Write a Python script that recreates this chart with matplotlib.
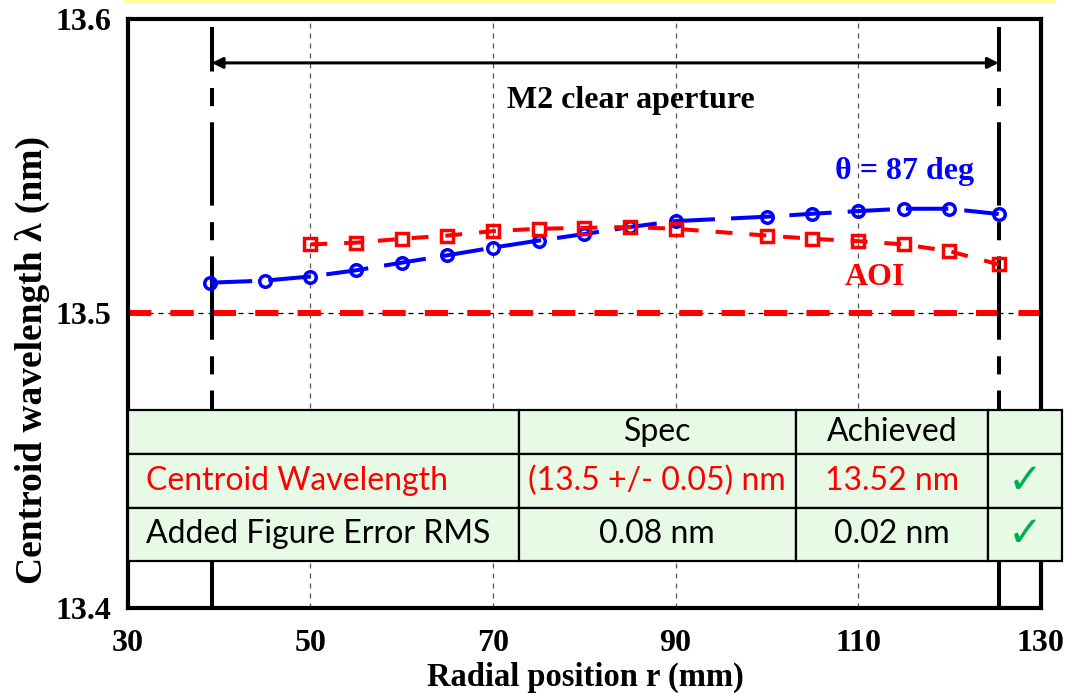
import numpy as np
import matplotlib
matplotlib.use("Agg")
from matplotlib import pyplot as plt
from matplotlib.patches import Rectangle

# data
r_blue = [39, 45, 50, 55, 60, 65, 70, 75, 80, 85, 90, 100, 105, 110, 115, 120, 125.4]
lam_blue = [13.5104, 13.5111, 13.5125, 13.5146, 13.5172, 13.5197, 13.5223, 13.5247, 13.5269,
            13.5293, 13.5313, 13.5328, 13.5338, 13.5347, 13.5355, 13.5355, 13.5337]
r_red = [50, 55, 60, 65, 70, 75, 80, 85, 90, 100, 105, 110, 115, 120, 125.4]
lam_red = [13.5234, 13.5240, 13.5253, 13.5264, 13.5279, 13.5287, 13.5290, 13.5293, 13.5287,
           13.5264, 13.5253, 13.5245, 13.5234, 13.5211, 13.5166]
clear_aperture = [39.2, 125.4]
aoi_level = 13.5
x_ticks = [30, 50, 70, 90, 110, 130]
y_ticks = [13.4, 13.5, 13.6]

table_cols = ["", "Spec", "Achieved", ""]
table_rows = [["Centroid Wavelength", "(13.5 +/- 0.05) nm", "13.52 nm", "\u2713"],
              ["Added Figure Error RMS", "0.08 nm", "0.02 nm", "\u2713"]]
row_colors = ["black", "#FF0000", "black"]

SERIF = "Liberation Serif"


def main():
    fig = plt.figure(figsize=(10.78, 6.93), dpi=100)
    ax = fig.add_axes([0.1185, 0.1227, 0.8469, 0.8503])

    # thin yellow band at the very top
    fig.add_artist(Rectangle((124 / 1078, 1 - 3.5 / 693), 931 / 1078, 3.5 / 693,
                             transform=fig.transFigure, color="#FFFF99", lw=0))

    ax.set_xlim(30, 130)
    ax.set_ylim(13.4, 13.6)
    ax.set_xticks(x_ticks)
    ax.set_yticks(y_ticks)
    ax.set_yticklabels(["%.1f" % v for v in y_ticks])
    ax.tick_params(length=0, labelsize=23, pad=12)
    ax.tick_params(axis="x", pad=15)
    for lab in ax.get_xticklabels() + ax.get_yticklabels():
        lab.set_fontfamily(SERIF)
        lab.set_fontweight("bold")
    for s in ax.spines.values():
        s.set_linewidth(3)

    # grid
    for xv in x_ticks[1:-1]:
        ax.axvline(xv, color="#555555", lw=0.9, ls=(0, (4, 4)), zorder=1)
    ax.axhline(aoi_level, color="black", lw=0.9, ls=(0, (4, 4)), zorder=1)

    # spec line
    ax.axhline(aoi_level, color="#FF0000", lw=4.3, ls=(0, (3.9, 3.2)), zorder=2)

    # clear aperture boundaries
    for xv in clear_aperture:
        ax.plot([xv, xv], [13.4, 13.5973], color="black", lw=2.9,
                ls=(0, (20.7, 4, 4.5, 4.1)), zorder=2)
    ax.annotate("", xy=(clear_aperture[0], 13.585), xytext=(clear_aperture[1], 13.585),
                arrowprops=dict(arrowstyle="<|-|>", lw=2.2, color="black",
                                mutation_scale=16, shrinkA=0, shrinkB=0))
    ax.text(85.1, 13.5722, "M2 clear aperture", ha="center", va="center",
            fontsize=23, fontweight="bold", fontfamily=SERIF)

    # data
    ax.plot(r_blue, lam_blue, color="#0000FF", lw=2.9, ls=(0, (10.5, 4)),
            marker="o", ms=8.3, mfc="none", mew=2.5, zorder=3)
    ax.plot(r_red, lam_red, color="#FF0000", lw=2.9, ls=(0, (4.2, 4.2)),
            marker="s", ms=8.3, mfc="none", mew=2.5, zorder=3)
    ax.text(115.1, 13.5481, "\u03b8 = 87 deg", ha="center", va="center", color="#0000FF",
            fontsize=23, fontweight="bold", fontfamily=[SERIF, "DejaVu Serif"])
    ax.text(111.9, 13.5122, "AOI", ha="center", va="center", color="#FF0000",
            fontsize=23, fontweight="bold", fontfamily=SERIF)

    ax.set_xlabel("Radial position r (mm)", fontsize=23.5, fontweight="bold", fontfamily=SERIF)
    ax.set_ylabel("Centroid wavelength \u03bb (nm)", fontsize=27, fontweight="bold",
                  fontfamily=SERIF)
    ax.xaxis.set_label_coords(0.501, -0.092)
    ax.yaxis.set_label_coords(-0.085, 0.42)

    # results table
    col_w = [391, 277, 192, 74]
    row_h = [44, 54, 53]
    tbl = ax.table(cellText=table_rows, colLabels=table_cols, cellLoc="center",
                   bbox=[0.0, 0.0798, 1.0233, 0.2562])
    tbl.auto_set_font_size(False)
    for (r, c), cell in tbl.get_celld().items():
        cell.set_width(col_w[c])
        cell.set_height(row_h[r])
        cell.set_facecolor("#E6FAE6")
        cell.set_edgecolor("black")
        cell.set_linewidth(1.6)
        txt = cell.get_text()
        txt.set_fontfamily(["Lato", "DejaVu Sans"])
        txt.set_fontsize(23)
        txt.set_color(row_colors[r])
        if c == 0:
            txt.set_ha("left")
            cell.PAD = 0.046
        if c == 3:
            txt.set_color("#00B050")
            txt.set_fontsize(30)
    tbl.set_zorder(5)

    plt.savefig("out.png", dpi=100)


if __name__ == '__main__':
    main()
